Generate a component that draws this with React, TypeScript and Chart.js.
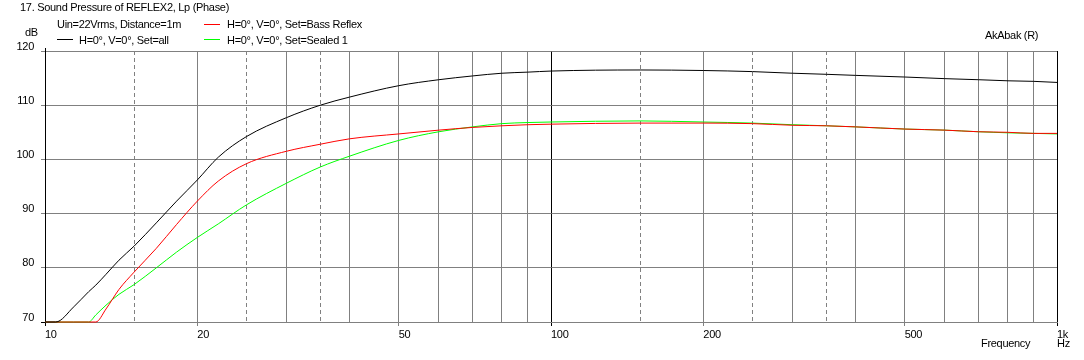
import React, { useEffect, useRef } from "react";
import { Chart, registerables } from "chart.js";

Chart.register(...registerables);

// ---- Data ----
const frequencies = [
  10, 10.5, 11.4, 12.2, 12.6, 13.2, 14, 15, 16.6, 18.2, 20, 22, 25, 30, 35, 40, 50, 60, 70, 80, 90,
  100, 150, 200, 250, 300, 350, 400, 500, 600, 700, 800, 900, 1000,
];
const setAllValues = [
  70, 70, 72.8, 75.6, 76.8, 78.8, 81.4, 84.0, 88.3, 92.3, 96.2, 100.4, 104.2, 107.7, 110.0, 111.5, 113.6,
  114.7, 115.4, 115.9, 116.1, 116.3, 116.5, 116.4, 116.2, 115.9, 115.7, 115.5, 115.2, 114.9, 114.7, 114.5,
  114.4, 114.2,
];
const bassReflexValues = [
  70, 70, 70, 70, 70, 72.4, 76.0, 79.2, 83.6, 88.0, 92.3, 96.0, 99.2, 101.5, 102.8, 103.8, 104.7, 105.4,
  105.9, 106.2, 106.4, 106.5, 106.7, 106.7, 106.6, 106.3, 106.2, 106.0, 105.6, 105.4, 105.1, 105.0, 104.8,
  104.8,
];
const sealedValues = [
  70, 70, 70, 70, 71.3, 73.1, 75.1, 76.9, 80.0, 82.9, 85.6, 88.1, 91.6, 95.6, 98.6, 100.6, 103.5, 105.1,
  106.0, 106.6, 106.8, 106.9, 107.1, 106.9, 106.7, 106.4, 106.2, 106.0, 105.6, 105.4, 105.1, 104.9, 104.8,
  104.7,
];

const xGridTicks = [
  10, 15, 20, 25, 30, 35, 40, 50, 60, 70, 80, 90, 100, 150, 200, 250, 300, 350, 400, 500, 600, 700, 800,
  900, 1000,
];
const xTickLabels: Record<number, string> = {
  10: "10", 20: "20", 50: "50", 100: "100", 200: "200", 500: "500", 1000: "1k",
};
const dashedTicks = [15, 25, 35, 150, 250, 350];
const blackTicks = [10, 100, 1000];
const yTicks = [70, 80, 90, 100, 110, 120];

const titleText = "17. Sound Pressure of REFLEX2, Lp (Phase)";
const subtitleText = "Uin=22Vrms, Distance=1m";
const seriesNames = [
  "H=0°, V=0°, Set=all",
  "H=0°, V=0°, Set=Bass Reflex",
  "H=0°, V=0°, Set=Sealed 1",
];
const seriesColors = ["#000000", "#ff0000", "#00ff00"];
const yUnit = "dB";
const xUnit = "Hz";
const xTitle = "Frequency";
const brand = "AkAbak (R)";

const FAMILY = '"Liberation Sans", Arial, sans-serif';
const FONT = `11px ${FAMILY}`;
const GRAY = "#808080";
const SPACING = "-0.3px";

const textPlugin = {
  id: "akabakText",
  beforeDraw(chart: any) {
    const ctx = chart.ctx as any;
    ctx.letterSpacing = SPACING;
  },
  afterDraw(chart: any) {
    const ctx = chart.ctx as any;
    ctx.save();
    ctx.letterSpacing = SPACING;
    ctx.font = FONT;
    ctx.fillStyle = "#000";
    ctx.textAlign = "left";
    ctx.textBaseline = "alphabetic";
    ctx.fillText(titleText, 20, 11);
    ctx.fillText(subtitleText, 57, 28);
    ctx.fillText(yUnit, 25, 36);
    ctx.fillText(brand, 985, 39);
    ctx.fillText(xTitle, 981, 347);
    ctx.fillText(xUnit, 1057, 347);

    const legend = [
      { i: 0, lx: 57, ly: 39.5, tx: 79, ty: 44 },
      { i: 1, lx: 204, ly: 24.5, tx: 227, ty: 28 },
      { i: 2, lx: 204, ly: 39.5, tx: 227, ty: 44 },
    ];
    legend.forEach((l) => {
      ctx.strokeStyle = seriesColors[l.i];
      ctx.lineWidth = 1;
      ctx.beginPath();
      ctx.moveTo(l.lx, l.ly);
      ctx.lineTo(l.lx + 16, l.ly);
      ctx.stroke();
      ctx.fillStyle = "#000";
      ctx.fillText(seriesNames[l.i], l.tx, l.ty);
    });
    // small extension of the vertical axis above the plot, as in the reference
    const area = chart.chartArea;
    ctx.strokeStyle = "#000";
    ctx.beginPath();
    ctx.moveTo(Math.round(area.left) + 0.5, area.top - 3);
    ctx.lineTo(Math.round(area.left) + 0.5, area.top);
    ctx.stroke();
    ctx.restore();
    ctx.letterSpacing = "0px";
  },
};

export default function App() {
  const canvasRef = useRef<HTMLCanvasElement | null>(null);

  useEffect(() => {
    if (!canvasRef.current) return;
    const mk = (vals: number[]) => frequencies.map((f, i) => ({ x: f, y: vals[i] }));
    const chart = new Chart(canvasRef.current, {
      type: "line",
      data: {
        datasets: [
          { label: seriesNames[0], data: mk(setAllValues), borderColor: seriesColors[0], order: 0 },
          { label: seriesNames[1], data: mk(bassReflexValues), borderColor: seriesColors[1], order: 1 },
          { label: seriesNames[2], data: mk(sealedValues), borderColor: seriesColors[2], order: 2 },
        ].map((d) => ({
          ...d,
          borderWidth: 1,
          pointRadius: 0,
          fill: false,
          cubicInterpolationMode: "monotone" as const,
          clip: 4,
        })),
      },
      options: {
        animation: false,
        responsive: true,
        maintainAspectRatio: false,
        layout: { padding: { top: 51, right: 27, left: 0, bottom: 0 } },
        plugins: { legend: { display: false }, tooltip: { enabled: false }, title: { display: false } },
        scales: {
          x: {
            type: "logarithmic",
            min: 10,
            max: 1000,
            afterBuildTicks: (s: any) => {
              s.ticks = xGridTicks.map((v) => ({ value: v }));
            },
            afterFit: (s: any) => {
              s.height = 38;
            },
            ticks: {
              autoSkip: false,
              maxRotation: 0,
              minRotation: 0,
              align: "start",
              padding: 2,
              color: "#000",
              font: { family: FAMILY, size: 11 },
              callback: (v: any) => xTickLabels[Number(v)] ?? "",
            },
            grid: {
              lineWidth: 1,
              tickLength: 4,
              color: (c: any) => (blackTicks.includes(c.tick?.value) ? "#000" : GRAY),
              tickColor: (c: any) => {
                const v = c.tick?.value;
                if (blackTicks.includes(v)) return "#000";
                if (xTickLabels[v]) return GRAY;
                return "rgba(0,0,0,0)";
              },
            },
            border: {
              color: GRAY,
              dash: (c: any) => (dashedTicks.includes(c.tick?.value) ? [4, 3] : []),
            },
          },
          y: {
            min: 70,
            max: 120,
            afterBuildTicks: (s: any) => {
              s.ticks = yTicks.map((v) => ({ value: v }));
            },
            afterFit: (s: any) => {
              s.width = 45;
            },
            ticks: {
              padding: 7,
              color: "#000",
              font: { family: FAMILY, size: 11, lineHeight: "9px" },
              callback: (v: any) => [String(v), ""],
            },
            grid: {
              lineWidth: 1,
              tickLength: 4,
              color: GRAY,
              tickColor: (c: any) => (c.tick?.value === 70 ? "#000" : GRAY),
            },
            border: { color: "#000" },
          },
        },
      },
      plugins: [textPlugin],
    } as any);
    return () => chart.destroy();
  }, []);

  return (
    <div style={{ position: "fixed", left: 0, top: 0, width: 1084, height: 360, background: "#fff" }}>
      <canvas ref={canvasRef} />
    </div>
  );
}
